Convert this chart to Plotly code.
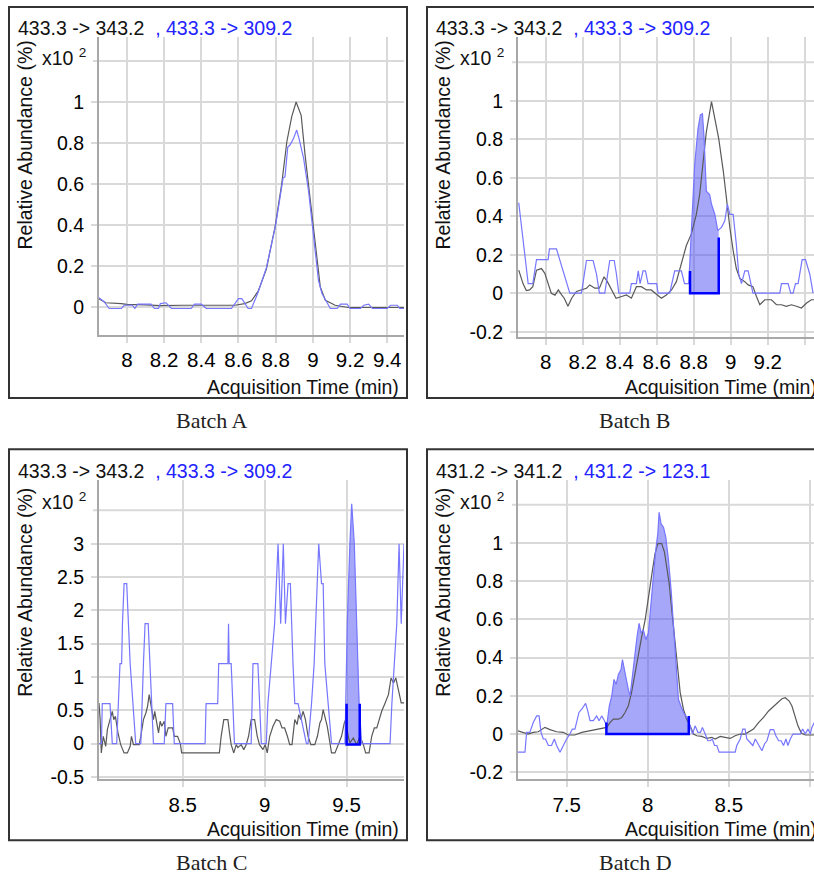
import numpy as np
import plotly.graph_objects as go

W, H = 814, 879

# ---------------- data (time in min, abundance in x10^2 %) ----------------
a_black = [(7.85,0.04),(7.886,0.02),(7.97,0.016),(8.0,0.012),(8.1,0.01),(8.18,0.006),(8.3,0.008),(8.45,0.008),(8.58,0.008),
           (8.634,0.016),(8.67,0.03),(8.706,0.077),(8.75,0.185),(8.796,0.387),(8.832,0.597),(8.86,0.806),(8.886,0.927),
           (8.91,1.0),(8.937,0.935),(8.958,0.742),(8.986,0.532),(9.013,0.323),(9.04,0.097),(9.067,0.032),(9.12,0.008),
           (9.19,-0.003),(9.3,-0.003),(9.49,-0.003)]
a_blue = [(7.85,0.045),(7.877,0.025),(7.905,-0.008),(7.97,-0.008),(7.985,0.008),(8.03,0.008),(8.043,-0.008),(8.058,0.013),
          (8.13,0.013),(8.148,-0.008),(8.17,-0.008),(8.18,0.016),(8.21,0.02),(8.24,-0.008),(8.346,-0.008),(8.364,0.013),
          (8.4,0.013),(8.427,-0.008),(8.562,-0.008),(8.6,0.04),(8.618,0.04),(8.643,0.008),(8.652,-0.008),(8.67,-0.008),
          (8.706,0.073),(8.75,0.19),(8.8,0.40),(8.84,0.63),(8.85,0.635),(8.865,0.78),(8.877,0.79),(8.895,0.82),(8.913,0.863),
          (8.926,0.82),(8.95,0.726),(8.977,0.565),(9.004,0.355),(9.03,0.129),(9.049,0.065),(9.094,-0.008),(9.13,-0.008),
          (9.148,0.013),(9.184,0.013),(9.2,-0.008),(9.256,-0.008),(9.274,0.008),(9.3,0.013),(9.32,-0.008),(9.4,-0.008),
          (9.418,0.008),(9.454,0.008),(9.467,-0.008),(9.49,-0.008)]

b_black = [(7.854,0.12),(7.877,0.05),(7.895,0.014),(7.913,0.017),(7.93,0.034),(7.95,0.12),(7.977,0.128),(7.995,0.103),
           (8.013,0.05),(8.03,0.0),(8.05,-0.01),(8.068,0.017),(8.086,-0.009),(8.1,-0.026),(8.12,-0.068),(8.14,-0.026),
           (8.166,0.009),(8.193,0.017),(8.22,0.026),(8.238,0.043),(8.265,0.026),(8.29,0.026),(8.315,0.085),(8.333,0.06),
           (8.355,0.017),(8.38,-0.026),(8.41,-0.017),(8.436,-0.009),(8.463,-0.026),(8.49,0.034),(8.517,0.034),(8.544,0.017),
           (8.57,0.017),(8.6,-0.009),(8.625,-0.026),(8.652,-0.009),(8.68,0.017),(8.706,0.06),(8.733,0.154),(8.76,0.248),
           (8.787,0.308),(8.814,0.41),(8.832,0.513),(8.85,0.667),(8.868,0.838),(8.896,0.995),(8.914,0.906),(8.935,0.803),
           (8.96,0.632),(8.977,0.479),(8.995,0.342),(9.013,0.222),(9.03,0.128),(9.049,0.077),(9.076,0.06),(9.094,0.043),
           (9.12,0.034),(9.139,-0.017),(9.157,-0.06),(9.184,-0.034),(9.22,-0.034),(9.247,-0.06),(9.274,-0.06),(9.3,-0.068),
           (9.328,-0.06),(9.355,-0.068),(9.382,-0.077),(9.41,-0.051),(9.436,-0.034),(9.45,-0.034)]
b_blue = [(7.854,0.47),(7.877,0.29),(7.905,0.05),(7.93,0.05),(7.95,0.174),(8.013,0.174),(8.02,0.23),(8.058,0.23),
          (8.076,0.17),(8.094,0.12),(8.112,0.05),(8.13,0.0),(8.193,0.0),(8.22,0.17),(8.256,0.17),(8.274,0.1),(8.29,0.0),
          (8.319,0.0),(8.346,0.17),(8.37,0.17),(8.382,0.1),(8.395,0.0),(8.454,0.0),(8.463,0.05),(8.49,0.05),(8.5,0.116),
          (8.51,0.05),(8.526,0.116),(8.539,0.116),(8.553,0.05),(8.6,0.05),(8.607,0.0),(8.67,0.0),(8.697,0.116),
          (8.733,0.116),(8.75,0.05),(8.773,0.05),(8.787,0.325),(8.805,0.667),(8.823,0.855),(8.836,0.926),(8.847,0.932),
          (8.856,0.803),(8.868,0.53),(8.886,0.513),(8.896,0.462),(8.914,0.41),(8.93,0.325),(8.95,0.342),(8.968,0.376),
          (8.982,0.462),(8.995,0.41),(9.013,0.41),(9.03,0.256),(9.043,0.1),(9.058,0.05),(9.076,0.116),(9.094,0.116),
          (9.108,0.05),(9.12,0.0),(9.265,0.0),(9.274,0.05),(9.31,0.05),(9.324,0.0),(9.337,0.0),(9.35,0.05),(9.364,0.05),
          (9.386,0.174),(9.404,0.174),(9.427,0.1),(9.445,0.0)]

c_black = [(7.99,0.61),(7.997,0.36),(8.004,-0.14),(8.016,0.11),(8.031,-0.04),(8.041,0.21),(8.057,0.36),(8.071,0.485),
           (8.08,0.36),(8.09,0.41),(8.106,0.16),(8.122,-0.015),(8.143,-0.14),(8.163,-0.14),(8.18,-0.04),(8.188,0.11),
           (8.2,-0.015),(8.235,-0.015),(8.245,0.11),(8.261,0.36),(8.276,0.46),(8.286,0.56),(8.296,0.735),(8.306,0.61),
           (8.322,0.36),(8.33,0.485),(8.343,0.26),(8.353,0.16),(8.363,0.335),(8.373,0.26),(8.388,0.335),(8.398,0.11),
           (8.412,0.235),(8.439,0.235),(8.449,0.11),(8.469,0.11),(8.486,0.0),(8.494,-0.14),(8.724,-0.14),(8.735,0.11),
           (8.751,0.36),(8.776,0.36),(8.786,0.16),(8.796,-0.015),(8.812,-0.14),(8.827,-0.015),(8.837,-0.06),(8.857,-0.015),
           (8.873,-0.09),(8.888,-0.015),(8.902,0.11),(8.918,0.36),(8.939,0.36),(8.955,0.11),(8.969,-0.015),(8.99,-0.09),
           (9.004,-0.015),(9.016,-0.14),(9.031,0.11),(9.051,0.26),(9.071,0.36),(9.092,0.335),(9.106,0.235),(9.122,0.235),
           (9.139,0.11),(9.153,-0.015),(9.167,-0.015),(9.184,0.36),(9.198,0.285),(9.208,0.435),(9.22,0.36),(9.235,0.485),
           (9.249,0.36),(9.265,0.11),(9.282,-0.015),(9.306,-0.015),(9.322,0.11),(9.337,0.31),(9.347,0.36),(9.357,0.51),
           (9.367,0.41),(9.382,0.26),(9.392,0.11),(9.408,-0.14),(9.429,-0.14),(9.449,-0.015),(9.469,0.11),(9.486,0.31),
           (9.494,0.36),(9.51,0.11),(9.52,0.01),(9.541,0.085),(9.561,-0.015),(9.582,0.11),(9.602,-0.015),(9.616,-0.14),
           (9.637,-0.14),(9.653,0.11),(9.669,0.235),(9.684,0.235),(9.698,0.36),(9.714,0.485),(9.735,0.61),(9.755,0.735),
           (9.771,0.985),(9.786,0.91),(9.8,0.985),(9.816,0.81),(9.833,0.61),(9.85,0.61)]
c_blue = [(7.99,0.0),(8.005,0.0),(8.01,0.6),(8.057,0.6),(8.071,0.0),(8.098,0.0),(8.118,1.2),(8.128,1.2),(8.133,1.8),
          (8.143,2.4),(8.159,2.4),(8.169,1.8),(8.18,1.2),(8.214,0.0),(8.245,0.0),(8.261,1.2),(8.271,1.8),(8.29,1.8),
          (8.3,1.2),(8.322,0.0),(8.388,0.0),(8.398,0.6),(8.439,0.6),(8.449,0.0),(8.637,0.0),(8.643,0.6),(8.714,0.6),
          (8.72,1.2),(8.776,1.2),(8.78,1.8),(8.784,1.2),(8.796,1.2),(8.816,0.0),(8.918,0.0),(8.929,1.2),(8.959,1.2),
          (8.98,0.0),(9.01,0.0),(9.02,0.6),(9.041,1.2),(9.061,1.8),(9.082,3.0),(9.098,1.8),(9.114,3.0),(9.127,1.8),
          (9.143,2.4),(9.157,2.4),(9.173,1.2),(9.184,0.6),(9.204,0.6),(9.255,0.0),(9.265,0.0),(9.286,0.6),(9.302,1.2),
          (9.312,1.8),(9.33,3.0),(9.347,2.4),(9.357,2.4),(9.367,1.2),(9.388,0.6),(9.408,0.0),(9.49,0.0),(9.504,1.8),
          (9.52,3.0),(9.531,3.6),(9.547,3.0),(9.561,1.8),(9.576,0.6),(9.592,0.0),(9.765,0.0),(9.776,0.6),(9.792,1.2),
          (9.806,1.8),(9.82,3.0),(9.833,1.8),(9.85,3.0)]

d_black = [(7.2,0.017),(7.232,0.009),(7.263,0.0),(7.294,0.009),(7.325,0.012),(7.366,0.035),(7.397,0.023),(7.438,0.012),
           (7.479,0.009),(7.51,-0.005),(7.55,-0.005),(7.593,0.009),(7.634,0.017),(7.675,0.023),(7.716,0.03),(7.747,0.035),
           (7.767,0.06),(7.788,0.078),(7.819,0.078),(7.84,0.087),(7.86,0.113),(7.88,0.147),(7.9,0.217),(7.922,0.32),
           (7.942,0.425),(7.963,0.511),(7.984,0.598),(8.0,0.702),(8.014,0.771),(8.029,0.858),(8.045,0.945),(8.062,0.997),
           (8.086,0.997),(8.103,0.953),(8.117,0.884),(8.132,0.789),(8.148,0.65),(8.165,0.511),(8.181,0.355),(8.2,0.217),
           (8.22,0.13),(8.24,0.078),(8.261,0.043),(8.282,0.0),(8.302,-0.009),(8.333,-0.012),(8.364,-0.023),(8.395,-0.017),
           (8.416,-0.026),(8.447,-0.012),(8.477,-0.017),(8.508,-0.023),(8.539,-0.009),(8.57,0.0),(8.6,0.0),(8.621,0.012),
           (8.652,0.026),(8.683,0.06),(8.714,0.087),(8.745,0.121),(8.776,0.147),(8.807,0.173),(8.827,0.185),(8.848,0.19),
           (8.872,0.173),(8.889,0.147),(8.909,0.095),(8.926,0.043),(8.947,0.005),(8.971,-0.005),(9.027,-0.005)]
d_blue = [(7.2,-0.095),(7.243,-0.095),(7.253,0.009),(7.273,0.009),(7.294,0.06),(7.315,0.095),(7.33,0.095),(7.342,0.009),
          (7.356,-0.026),(7.37,-0.026),(7.387,-0.06),(7.407,-0.06),(7.424,-0.026),(7.438,-0.06),(7.459,-0.095),
          (7.479,-0.06),(7.5,-0.026),(7.52,0.0),(7.535,0.026),(7.551,0.026),(7.562,0.06),(7.576,0.113),(7.593,0.13),
          (7.607,0.147),(7.617,0.161),(7.63,0.121),(7.644,0.07),(7.665,0.07),(7.685,0.095),(7.7,0.07),(7.716,0.095),
          (7.733,0.07),(7.747,0.043),(7.763,0.147),(7.778,0.199),(7.792,0.286),(7.805,0.26),(7.819,0.312),(7.835,0.338),
          (7.844,0.39),(7.86,0.312),(7.88,0.234),(7.891,0.199),(7.905,0.303),(7.922,0.442),(7.934,0.511),(7.947,0.58),
          (7.959,0.529),(7.973,0.546),(7.988,0.494),(8.004,0.529),(8.02,0.685),(8.035,0.84),(8.049,0.962),(8.062,1.049),
          (8.07,1.161),(8.082,1.1),(8.097,1.083),(8.111,1.031),(8.128,0.91),(8.144,0.754),(8.16,0.563),(8.177,0.355),
          (8.189,0.182),(8.204,0.147),(8.22,0.113),(8.235,0.095),(8.247,0.078),(8.261,0.043),(8.276,0.0),(8.292,0.043),
          (8.309,0.009),(8.325,0.009),(8.337,0.035),(8.354,0.0),(8.37,-0.035),(8.385,-0.035),(8.398,-0.026),(8.412,-0.06),
          (8.426,-0.06),(8.44,-0.095),(8.539,-0.095),(8.549,-0.06),(8.57,-0.026),(8.586,0.026),(8.6,0.026),(8.611,-0.026),
          (8.632,-0.043),(8.648,-0.06),(8.663,-0.026),(8.683,-0.06),(8.704,-0.087),(8.72,-0.052),(8.735,-0.035),
          (8.755,0.023),(8.776,0.023),(8.79,-0.009),(8.807,-0.035),(8.822,-0.035),(8.837,-0.06),(8.852,-0.026),
          (8.864,-0.06),(8.879,-0.026),(8.895,0.0),(8.94,0.0),(8.955,0.026),(8.971,0.0),(8.988,0.026),(9.002,0.0),
          (9.012,0.035),(9.027,0.06)]

# integration windows: (start, end, start height, end height, baseline)
b_integ = (8.78, 8.935, 0.115, 0.29, 0.0)
c_integ = (9.5, 9.58, 0.6, 0.6, -0.015)
d_integ = (7.745, 8.253, 0.06, 0.095, 0.0)

titles = [("433.3 -> 343.2", "433.3 -> 309.2"), ("433.3 -> 343.2", "433.3 -> 309.2"),
          ("433.3 -> 343.2", "433.3 -> 309.2"), ("431.2 -> 341.2", "431.2 -> 123.1")]
captions = ["Batch A", "Batch B", "Batch C", "Batch D"]

x_ticks = [[8, 8.2, 8.4, 8.6, 8.8, 9, 9.2, 9.4], [8, 8.2, 8.4, 8.6, 8.8, 9, 9.2, 9.4],
           [8.5, 9, 9.5], [7.5, 8, 8.5, 9]]
y_ticks = [[0, 0.2, 0.4, 0.6, 0.8, 1], [-0.2, 0, 0.2, 0.4, 0.6, 0.8, 1],
           [-0.5, 0, 0.5, 1, 1.5, 2, 2.5, 3], [-0.2, 0, 0.2, 0.4, 0.6, 0.8, 1]]
y_top_tick = [1.2, 1.2, 3.5, 1.2]   # unlabeled top gridline
x_ranges = [[7.85, 9.49], [7.85, 9.45], [7.99, 9.85], [7.2, 9.025]]
y_ranges = [[-0.135, 1.319], [-0.225, 1.333], [-0.53, 3.955], [-0.235, 1.33]]

# ---------------- layout geometry (pixels) ----------------
def P(px): return px / W
def Q(py): return 1 - py / H

areas = [(99, 404, 37, 338), (518, 814, 37, 340), (99, 404, 485, 787), (518, 814, 485, 787)]
frames = [(9, 407, 7, 402), (427, 840, 7, 402), (9, 407, 454, 849), (427, 840, 454, 849)]
offs = [(0, 0), (418, 0), (0, 448), (418, 448)]

BLACK = "#595959"
BLUE = "#7676ff"
FILL = "rgba(80,80,245,0.5)"
INTEG = "#0000ff"
GRID = "#d9d9d9"
FONT = "Liberation Sans, Arial, sans-serif"
FS = 19.5

fig = go.Figure()

series = [(a_black, a_blue, None), (b_black, b_blue, b_integ), (c_black, c_blue, c_integ), (d_black, d_blue, d_integ)]

for i, (blk, blu, integ) in enumerate(series):
    xa = "x" if i == 0 else f"x{i+1}"
    ya = "y" if i == 0 else f"y{i+1}"
    bt = np.array([p[0] for p in blu]); by = np.array([p[1] for p in blu])
    kt = np.array([p[0] for p in blk]); ky = np.array([p[1] for p in blk])
    if integ is not None:
        s, e, h1, h2, base = integ
        inside = (bt > s) & (bt < e)
        ft = np.concatenate([[s], bt[inside], [e]])
        fy = np.concatenate([[np.interp(s, bt, by)], by[inside], [np.interp(e, bt, by)]])
        fig.add_trace(go.Scatter(x=np.concatenate([[s], ft, [e]]), y=np.concatenate([[base], fy, [base]]),
                                 mode="lines", line=dict(width=0), fill="toself", fillcolor=FILL,
                                 xaxis=xa, yaxis=ya, hoverinfo="skip", showlegend=False))
    fig.add_trace(go.Scatter(x=kt, y=ky, mode="lines", line=dict(color=BLACK, width=1.2),
                             xaxis=xa, yaxis=ya, hoverinfo="skip", showlegend=False))
    fig.add_trace(go.Scatter(x=bt, y=by, mode="lines", line=dict(color=BLUE, width=1.2),
                             xaxis=xa, yaxis=ya, hoverinfo="skip", showlegend=False))
    if integ is not None:
        s, e, h1, h2, base = integ
        fig.add_trace(go.Scatter(x=[s, s, e, e], y=[h1, base, base, h2], mode="lines",
                                 line=dict(color=INTEG, width=2.5),
                                 xaxis=xa, yaxis=ya, hoverinfo="skip", showlegend=False))

layout = dict(width=W, height=H, margin=dict(l=0, r=0, t=0, b=0, pad=0),
              paper_bgcolor="white", plot_bgcolor="white", showlegend=False)

def fmt(v):
    return f"{v:g}"

annotations = []
shapes = []
for i in range(4):
    l, r, t, b = areas[i]
    sfx = "" if i == 0 else str(i + 1)
    common = dict(showgrid=True, gridcolor=GRID, gridwidth=2, zeroline=False,
                  showline=True, linecolor="#a8a8a8", linewidth=2,
                  ticks="outside", ticklen=6, tickwidth=2, tickcolor=GRID, fixedrange=True)
    layout["xaxis" + sfx] = dict(domain=[P(l), P(r)], range=x_ranges[i], anchor="y" + sfx,
                                 tickvals=x_ticks[i], ticktext=[fmt(v) for v in x_ticks[i]],
                                 tickfont=dict(family=FONT, size=20.5, color="black"),
                                 ticklabelstandoff=0, **common)
    layout["yaxis" + sfx] = dict(domain=[Q(b), Q(t)], range=y_ranges[i], anchor="x" + sfx,
                                 tickvals=y_ticks[i], ticktext=[fmt(v) for v in y_ticks[i]],
                                 tickfont=dict(family=FONT, size=FS, color="black"),
                                 ticklabelstandoff=3, **common)
    # unlabeled top gridline with its tick
    shapes.append(dict(type="line", xref=f"x{sfx} domain", yref="y" + sfx, x0=-6 / (r - l), x1=1,
                       y0=y_top_tick[i], y1=y_top_tick[i], line=dict(color=GRID, width=2), layer="below"))
    fl, fr, ft_, fb = frames[i]
    shapes.append(dict(type="rect", xref="paper", yref="paper", x0=P(fl), x1=P(fr), y0=Q(fb), y1=Q(ft_),
                       line=dict(color="#333333", width=2), fillcolor="rgba(0,0,0,0)", layer="above"))
    ox, oy = offs[i]
    black_t, blue_t = titles[i]
    annotations.append(dict(xref="paper", yref="paper", x=P(16 + ox), y=Q(28 + oy), xanchor="left", yanchor="middle",
                            text=f"{black_t}\u00a0\u00a0<span style='color:#2323ff'>, {blue_t}</span>",
                            showarrow=False, font=dict(family=FONT, size=FS, color="#111111")))
    annotations.append(dict(xref="paper", yref="paper", x=P(40 + ox), y=Q(58 + oy), xanchor="left", yanchor="middle",
                            text="x10 <sup>2</sup>", showarrow=False, font=dict(family=FONT, size=FS, color="#111111")))
    annotations.append(dict(xref="paper", yref="paper", x=P(25 + ox), y=Q(147 + oy + (4 if i >= 2 else 0)),
                            xanchor="center", yanchor="middle", textangle=-90,
                            text="Relative Abundance (%)", showarrow=False,
                            font=dict(family=FONT, size=FS, color="#111111")))
    annotations.append(dict(xref="paper", yref="paper", x=P(205 + ox), y=Q(391 + oy - (1 if i >= 2 else 0)),
                            xanchor="left", yanchor="middle",
                            text="Acquisition Time (min)", showarrow=False,
                            font=dict(family=FONT, size=FS, color="#111111")))
    annotations.append(dict(xref="paper", yref="paper", x=P(212 + ox + (0 if i % 2 == 0 else 5)),
                            y=Q(425 + oy - (2 if i >= 2 else 0)),
                            xanchor="center", yanchor="middle", text=captions[i], showarrow=False,
                            font=dict(family="Liberation Serif, Times New Roman, serif", size=22, color="#222222")))

layout["annotations"] = annotations
layout["shapes"] = shapes
fig.update_layout(**layout)

fig.write_html("out.html", config={"displayModeBar": False},
               post_script="document.body.style.margin='0';document.body.style.padding='0';")
